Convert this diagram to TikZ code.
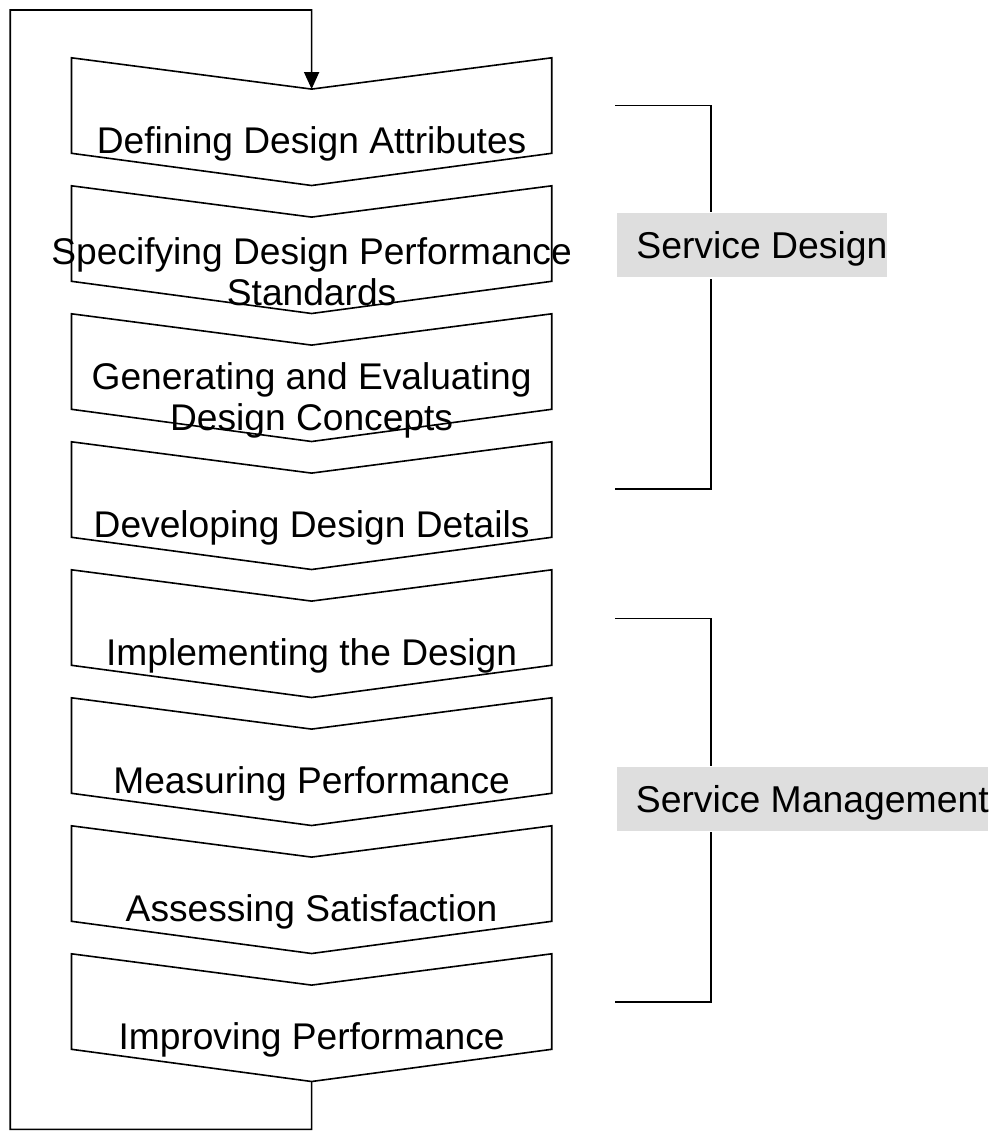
\documentclass[tikz,border=0pt]{standalone}
\usepackage{fontspec}
\setmainfont{Liberation Sans}
\usetikzlibrary{arrows.meta}

\begin{document}
\begin{tikzpicture}[scale=0.35,
    chevron/.style={black, line width=1.6pt, fill=white},
    steptext/.style={font=\fontsize{37}{41}\selectfont, align=center},
    tag/.style={anchor=west, fill=black!13, draw=white, line width=1.5pt,
                minimum height=65pt, text height=26pt, text depth=0pt,
                font=\fontsize{37.2}{41}\selectfont}]
                      \tikzstyle{every node}+=[inner sep=0pt]
                      \useasboundingbox (0,0) rectangle (99.6,-113.2);
                      % steps
                      \draw [chevron] (7.15,-5.78) -- (31.16,-8.91) -- (55.17,-5.78) -- (55.17,-15.33) -- (31.16,-18.55) -- (7.15,-15.33) -- cycle;
                      \draw (31.16,-14.4) node [steptext] (s1) {Defining Design Attributes};
                      \draw [chevron] (7.15,-18.58) -- (31.16,-21.71) -- (55.17,-18.58) -- (55.17,-28.13) -- (31.16,-31.35) -- (7.15,-28.13) -- cycle;
                      \draw (31.16,-27.2) node [steptext] (s2) {Specifying Design Performance\\Standards};
                      \draw [chevron] (7.15,-31.38) -- (31.16,-34.51) -- (55.17,-31.38) -- (55.17,-40.93) -- (31.16,-44.15) -- (7.15,-40.93) -- cycle;
                      \draw (31.16,-40.0) node [steptext] (s3) {Generating and Evaluating\\Design Concepts};
                      \draw [chevron] (7.15,-44.18) -- (31.16,-47.31) -- (55.17,-44.18) -- (55.17,-53.73) -- (31.16,-56.95) -- (7.15,-53.73) -- cycle;
                      \draw (31.16,-52.8) node [steptext] (s4) {Developing Design Details};
                      \draw [chevron] (7.15,-56.98) -- (31.16,-60.11) -- (55.17,-56.98) -- (55.17,-66.53) -- (31.16,-69.75) -- (7.15,-66.53) -- cycle;
                      \draw (31.16,-65.6) node [steptext] (s5) {Implementing the Design};
                      \draw [chevron] (7.15,-69.78) -- (31.16,-72.91) -- (55.17,-69.78) -- (55.17,-79.33) -- (31.16,-82.55) -- (7.15,-79.33) -- cycle;
                      \draw (31.16,-78.4) node [steptext] (s6) {Measuring Performance};
                      \draw [chevron] (7.15,-82.58) -- (31.16,-85.71) -- (55.17,-82.58) -- (55.17,-92.13) -- (31.16,-95.35) -- (7.15,-92.13) -- cycle;
                      \draw (31.16,-91.2) node [steptext] (s7) {Assessing Satisfaction};
                      \draw [chevron] (7.15,-95.38) -- (31.16,-98.51) -- (55.17,-95.38) -- (55.17,-104.93) -- (31.16,-108.15) -- (7.15,-104.93) -- cycle;
                      \draw (31.16,-104.0) node [steptext] (s8) {Improving Performance};
                      % feedback loop
                      \coordinate (in1) at (31.16,-8.91);
                      \coordinate (out8) at (31.16,-108.15);
                      \draw [black, line width=1.6pt, -{Triangle[length=17pt,width=15pt]}] (out8) |- (1.03,-112.93) |- (31.16,-1.0) -- (in1);
                      % brackets
                      \coordinate (sdtop) at (61.5,-10.55);
                      \coordinate (sdbot) at (61.5,-48.9);
                      \draw [black, line width=1.6pt] (sdtop) -| (71.1,-30) |- (sdbot);
                      \node [tag] (sd) at (61.55,-24.53) {\hspace{20pt}Service Design\hspace{1pt}};
                      \coordinate (smtop) at (61.5,-61.83);
                      \coordinate (smbot) at (61.5,-100.17);
                      \draw [black, line width=1.6pt] (smtop) -| (71.1,-80) |- (smbot);
                      \node [tag] (sm) at (61.5,-79.9) {\hspace{20pt}Service Management\hspace{1pt}};
                  \end{tikzpicture}
\end{document}
